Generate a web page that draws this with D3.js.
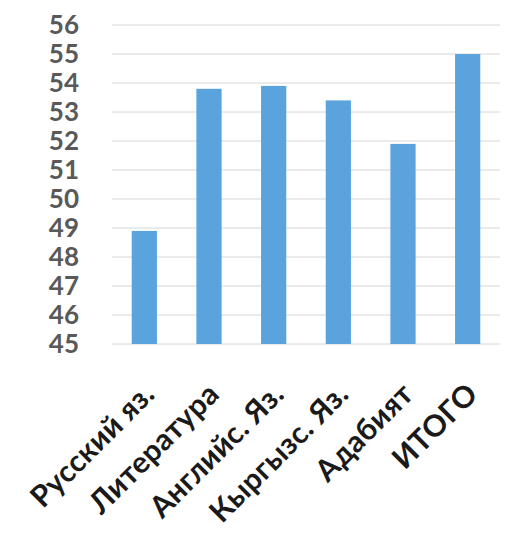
<!DOCTYPE html>
<html>
<head>
<meta charset="utf-8">
<script src="https://cdn.jsdelivr.net/npm/d3@7"></script>
<style>
  body { margin: 0; background: #fff; }
  .tick-y { font-family: Lato, "Open Sans", sans-serif; font-weight: bold; fill: #595959; }
  .tick-x { font-family: Lato, "Open Sans", sans-serif; font-weight: bold; fill: #1a1a1a; letter-spacing: 0.3px; }
</style>
</head>
<body>
<div id="chart"></div>
<script>
var categories = ["Русский яз.", "Литература", "Английс. Яз.", "Кыргызс. Яз.", "Адабият", "ИТОГО"];
var values = [48.9, 53.8, 53.9, 53.4, 51.9, 55.0];
var yTicks = [45, 46, 47, 48, 49, 50, 51, 52, 53, 54, 55, 56];

var W = 522, H = 536;
var margin = {top: 25, right: 22, bottom: 192, left: 112};
var width = W - margin.left - margin.right,
    height = H - margin.top - margin.bottom;

var svg = d3.select("#chart").append("svg")
    .attr("width", W)
    .attr("height", H);

var main = svg.append("g")
    .attr("transform", "translate(" + margin.left + "," + margin.top + ")");

var x = d3.scaleBand()
    .domain(categories)
    .range([0, width])
    .paddingInner(0.61)
    .paddingOuter(0.305);

var y = d3.scaleLinear()
    .domain([45, 56])
    .range([height, 0]);

// gridlines
main.selectAll("line.grid")
    .data(yTicks)
    .enter().append("line")
    .attr("class", "grid")
    .attr("x1", 0)
    .attr("x2", width)
    .attr("y1", function(d) { return y(d); })
    .attr("y2", function(d) { return y(d); })
    .attr("stroke", "#d6d6d6")
    .attr("stroke-width", 1);

// y labels
main.selectAll("text.tick-y")
    .data(yTicks)
    .enter().append("text")
    .attr("class", "tick-y")
    .attr("x", -33)
    .attr("y", function(d) { return y(d); })
    .attr("dy", "0.36em")
    .attr("text-anchor", "end")
    .style("font-size", "26px")
    .text(function(d) { return d; });

// bars
main.selectAll("rect")
    .data(values)
    .enter().append("rect")
    .attr("x", function(d, i) { return x(categories[i]); })
    .attr("y", function(d) { return y(d); })
    .attr("width", x.bandwidth())
    .attr("height", function(d) { return height - y(d); })
    .attr("fill", "#5ba3dc");

// x labels, rotated
main.selectAll("text.tick-x")
    .data(categories)
    .enter().append("text")
    .attr("class", "tick-x")
    .attr("text-anchor", "end")
    .style("font-size", "30px")
    .attr("transform", function(d) {
        var cx = x(d) + x.bandwidth() / 2 + 12;
        return "translate(" + cx + "," + (height + 52) + ") rotate(-45)";
    })
    .text(function(d) { return d; });
</script>
</body>
</html>
